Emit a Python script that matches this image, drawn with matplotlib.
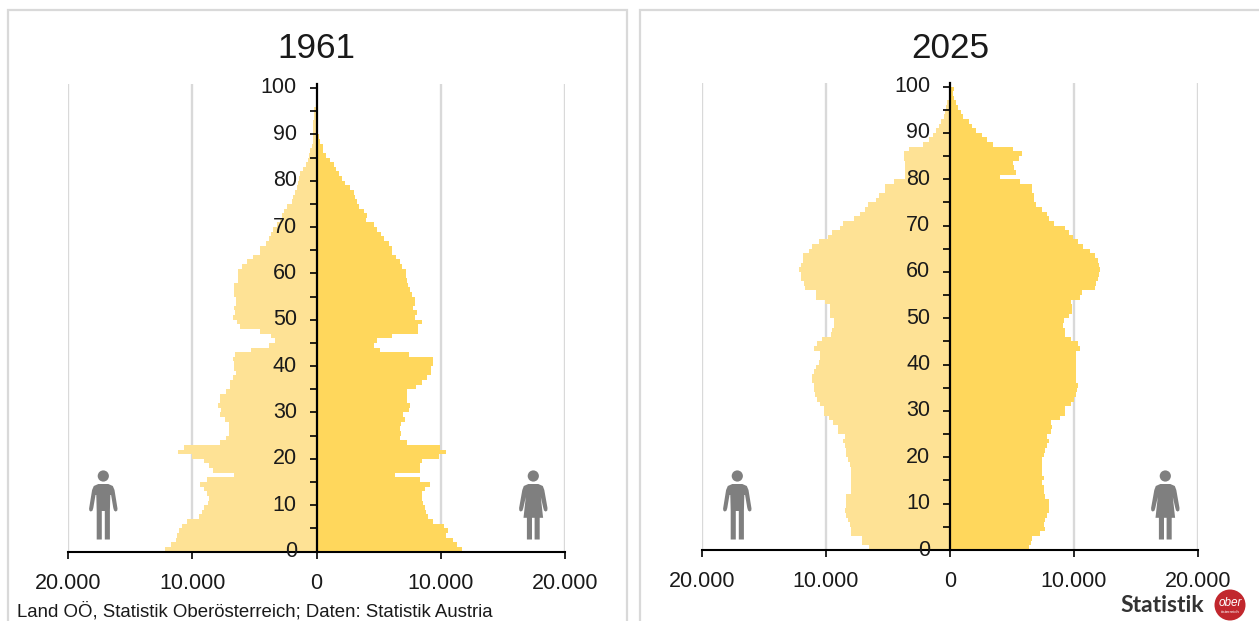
import numpy as np
import matplotlib
matplotlib.use("Agg")
import matplotlib.pyplot as plt
from matplotlib.patches import Polygon, Circle
from matplotlib.lines import Line2D
from matplotlib.transforms import Affine2D, ScaledTranslation

plt.rcParams['font.family'] = ['Liberation Sans', 'DejaVu Sans']

W, H = 1259, 621

male_1961 = [12.2,11.7,11.3,11.2,11.1,10.8,10.45,9.45,9.25,9.05,
             8.7,8.65,8.85,9.05,9.4,8.8,6.6,8.35,8.65,9.05,
             10.05,11.15,10.65,7.8,7.25,7.05,7.05,7.05,7.4,7.8,
             7.65,7.9,7.8,7.8,7.3,7.0,7.0,6.7,6.5,6.6,
             6.65,6.7,6.55,5.3,3.8,3.35,3.7,4.55,6.15,6.4,
             6.7,6.55,6.6,6.5,6.5,6.6,6.6,6.6,6.3,6.3,
             6.3,6.0,5.6,5.1,4.55,4.55,4.1,3.8,3.7,3.5,
             3.2,2.95,2.8,2.6,2.35,2.0,1.9,1.75,1.6,1.45,
             1.4,1.3,1.05,.85,.65,.6,.5,.4,.3,.25,
             .25,.25,.25,.2,.2,.2,0,0,0,0]
female_1961 = [11.7,11.3,10.95,10.4,10.55,10.25,9.35,9.0,8.85,8.7,
               8.55,8.5,8.5,8.75,9.1,8.35,6.3,8.35,8.35,8.5,
               9.85,10.4,9.9,7.3,6.7,6.8,6.7,6.8,7.15,7.0,
               7.45,7.55,7.3,7.3,7.3,8.0,8.5,8.9,9.2,9.25,
               9.35,9.35,7.45,5.1,4.65,4.9,6.1,8.15,8.15,8.5,
               7.9,8.05,7.75,7.9,7.9,7.7,7.55,7.4,7.3,7.2,
               7.2,6.9,6.75,6.4,6.1,6.1,5.8,5.4,5.2,4.9,
               4.65,3.95,4.05,3.8,3.45,3.25,3.1,3.0,2.7,2.3,
               2.05,1.85,1.55,1.4,1.1,.8,.55,.5,.25,.2,
               .05,.05,.05,.05,.05,.05,0,0,0,0]
male_2025 = [6.55,7.1,7.1,7.95,8.0,8.05,8.2,8.4,8.45,8.4,
             8.35,8.35,8.0,8.0,8.0,8.0,8.0,8.0,8.05,8.2,
             8.35,8.4,8.45,8.6,8.5,9.05,9.05,9.4,9.75,10.2,
             10.2,10.5,10.7,10.9,11.0,11.0,11.1,11.1,10.95,10.8,
             10.6,10.5,10.5,11.0,10.7,10.35,9.6,9.55,9.35,9.35,
             9.7,9.7,9.7,10.1,10.8,10.8,11.7,11.8,12.0,12.05,
             12.2,12.05,11.85,11.85,11.4,11.1,10.55,9.8,9.55,8.85,
             8.6,7.75,7.25,6.85,6.65,5.95,5.7,5.25,5.25,4.5,
             3.6,3.6,3.6,3.6,3.7,3.75,3.3,2.15,1.7,1.35,
             1.1,.85,.7,.5,.4,.3,.25,.12,.07,.04]
female_2025 = [6.4,6.5,6.65,7.25,7.65,7.55,7.7,7.8,8.0,8.0,
               8.0,7.65,7.6,7.55,7.4,7.55,7.45,7.4,7.4,7.4,
               7.6,7.7,7.8,7.95,7.8,8.15,8.2,8.15,8.85,9.3,
               9.3,9.75,10.0,10.15,10.25,10.3,10.2,10.15,10.15,10.15,
               10.15,10.15,10.15,10.5,10.3,9.75,9.3,9.3,9.15,9.2,
               9.6,9.85,9.85,9.75,10.5,10.65,11.7,11.8,11.9,12.05,
               12.1,12.05,11.9,11.7,11.3,10.75,10.35,9.9,9.6,9.25,
               8.4,8.0,7.8,7.4,6.9,6.75,6.75,6.65,6.65,5.65,
               4.05,5.3,5.2,5.05,5.6,5.8,5.05,3.45,3.0,2.55,
               2.1,1.8,1.5,1.05,.9,.65,.5,.35,.25,.3]

x_ticks = [-20000, -10000, 0, 10000, 20000]
x_labels = ['20.000', '10.000', '0', '10.000', '20.000']
y_ticks = list(range(0, 101, 5))
y_labels = [str(v) if v % 10 == 0 else '' for v in y_ticks]
titles = ['1961', '2025']
source = 'Land OÖ, Statistik Oberösterreich; Daten: Statistik Austria'
logo_text = 'Statistik'

MALE = '#FEE295'
FEMALE = '#FFD75C'
GRID = '#D9D9D9'
TEXT = '#1A1A1A'
ICON = '#7F7F7F'

fig = plt.figure(figsize=(W / 100, H / 100), dpi=100)
T = Affine2D().scale(1 / W, -1 / H).translate(0, 1) + fig.transFigure


def frame(x0, x1):
    fig.add_artist(Line2D([x0, x0, x1, x1], [H + 5, 10, 10, H + 5], transform=T,
                          color=GRID, lw=1.6, solid_joinstyle='miter'))


frame(8, 627)
frame(640, 1262)


def panel(x0, x1, ytop, ybot, male, female, title):
    ax = fig.add_axes([x0 / W, 1 - ybot / H, (x1 - x0) / W, (ybot - ytop) / H])
    ax.patch.set_alpha(0)
    male = np.array(male) * 1000
    female = np.array(female) * 1000
    ages = np.arange(len(male))
    for v in x_ticks:
        if v != 0:
            ax.axvline(v, color=GRID, lw=1.7, zorder=0.5)
    ax.barh(ages, -male, height=1.0, align='edge', color=MALE, lw=0, zorder=1)
    ax.barh(ages, female, height=1.0, align='edge', color=FEMALE, lw=0, zorder=1)
    ax.set_xlim(-20000, 20000)
    ax.set_ylim(0, (ybot - ytop) / 4.635)
    ax.set_axisbelow(False)
    for s in ['top', 'right']:
        ax.spines[s].set_visible(False)
    ax.spines['left'].set_position(('data', 0))
    ax.spines['left'].set_linewidth(1.6)
    ax.spines['bottom'].set_linewidth(1.5)
    ax.set_xticks(x_ticks)
    ax.set_xticklabels(x_labels, fontsize=15.5, color=TEXT)
    ax.set_yticks(y_ticks)
    ax.set_yticklabels(y_labels, fontsize=15.5, color=TEXT)
    ax.tick_params(axis='x', length=5.2, width=1.2, pad=10, direction='out')
    ax.tick_params(axis='y', length=5.2, width=1.2, pad=9, direction='out')
    shift = ScaledTranslation(0, 2.5 / 100, fig.dpi_scale_trans)
    for lab in ax.get_yticklabels():
        lab.set_transform(lab.get_transform() + shift)
    cx = (x0 + x1) / 2
    fig.text(cx / W, 1 - 48 / H, title, fontsize=25.3, color=TEXT, ha='center', va='center')
    return ax


panel(68, 565, 84.3, 551.5, male_1961, female_1961, titles[0])
panel(702, 1198, 83.3, 550, male_2025, female_2025, titles[1])


def man(cx):
    fig.add_artist(Circle((cx, 476), 5.6, transform=T, fc=ICON, ec='none'))
    pts = [(-5, 484), (5, 484), (9.5, 486), (11.2, 490), (14.2, 508.5), (14, 510.5), (12.5, 511.6),
           (10.8, 510.6), (10, 508), (7.8, 495), (7, 495), (6.6, 511), (6.6, 539.5), (1.5, 539.5),
           (1.5, 511), (-1.5, 511), (-1.5, 539.5), (-6.6, 539.5), (-6.6, 511), (-7, 495), (-7.8, 495),
           (-10, 508), (-10.8, 510.6), (-12.5, 511.6), (-14, 510.5), (-14.2, 508.5), (-11.2, 490), (-9.5, 486)]
    fig.add_artist(Polygon([(cx + a, b) for a, b in pts], closed=True, transform=T, fc=ICON, ec='none'))


def woman(cx):
    fig.add_artist(Circle((cx, 476), 5.6, transform=T, fc=ICON, ec='none'))
    pts = [(-5, 484), (5, 484), (9.5, 486), (11, 490), (14.2, 508), (14, 510.5), (12.5, 511.6),
           (10.8, 510.6), (10, 508), (7.5, 497), (9.8, 517.8), (6.4, 517.8), (6.4, 539.5), (1.3, 539.5),
           (1.3, 517.8), (-1.3, 517.8), (-1.3, 539.5), (-6.4, 539.5), (-6.4, 517.8), (-9.8, 517.8), (-7.5, 497),
           (-10, 508), (-10.8, 510.6), (-12.5, 511.6), (-14, 510.5), (-14.2, 508), (-11, 490), (-9.5, 486)]
    fig.add_artist(Polygon([(cx + a, b) for a, b in pts], closed=True, transform=T, fc=ICON, ec='none'))


man(103.3)
woman(533.3)
man(737.3)
woman(1165.3)

fig.text(17 / W, 1 - 611 / H, source, fontsize=13.45, color=TEXT, ha='left', va='center')
fig.text(1120 / W, 1 - 606 / H, logo_text, fontsize=16.5, fontweight='bold', family=['Lato', 'DejaVu Sans'],
         color='#333333', ha='left', va='center')
fig.add_artist(Circle((1230, 605), 15.5, transform=T, fc='#C1272D', ec='none'))
fig.text(1230 / W, 1 - 603 / H, 'ober', fontsize=8.5, style='italic', color='white', ha='center', va='center')
fig.text(1230 / W, 1 - 612 / H, 'österreich', fontsize=3.2, color='white', ha='center', va='center')

fig.savefig('out.png', dpi=100)
